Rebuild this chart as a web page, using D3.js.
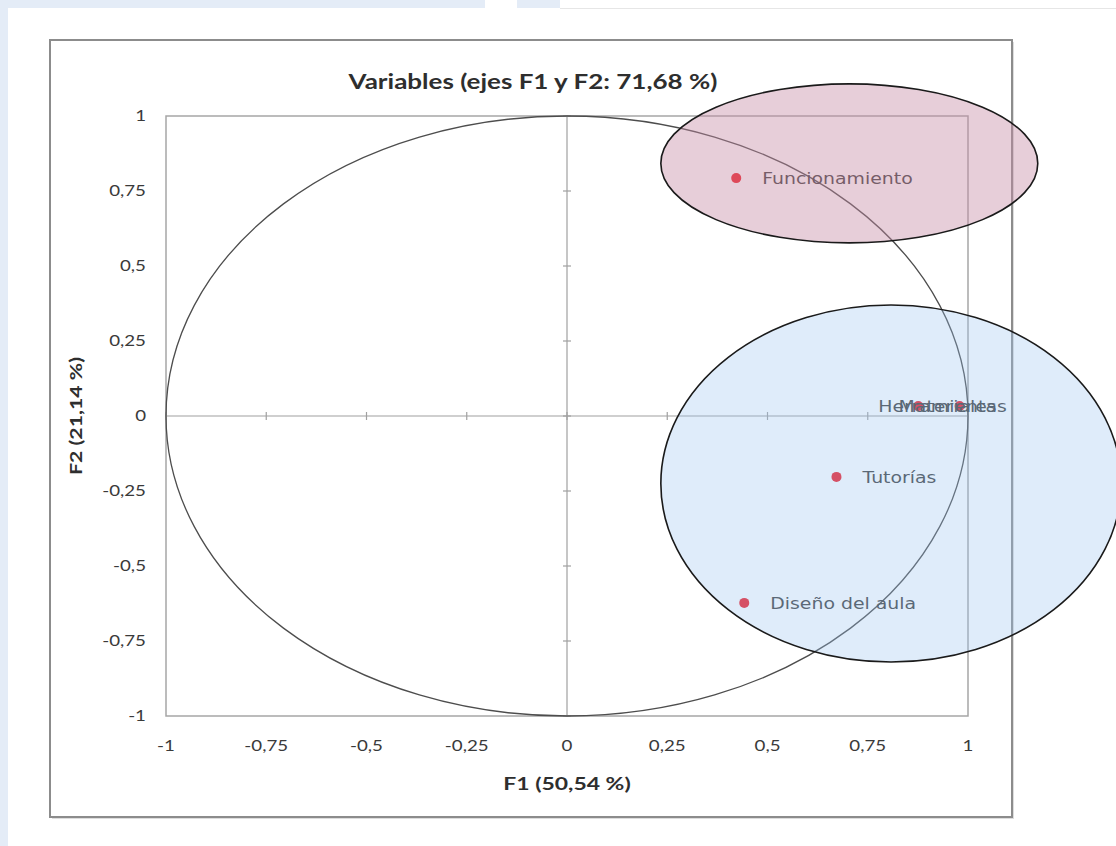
<!DOCTYPE html>
<html>
<head>
<meta charset="utf-8">
<script src="https://cdn.jsdelivr.net/npm/d3@7"></script>
<style>
  body { margin: 0; background: #fff; }
  svg { display: block; }
</style>
</head>
<body>
<svg width="1116" height="846"></svg>
<script>
// Variables on the F1/F2 plane
const variables = ['Funcionamiento', 'Herramientas', 'Materiales', 'Tutorías', 'Diseño del aula'];
const f1Values = [0.422, 0.876, 0.979, 0.672, 0.442];
const f2Values = [0.793, 0.033, 0.033, -0.203, -0.623];

const ticks = [-1, -0.75, -0.5, -0.25, 0, 0.25, 0.5, 0.75, 1];
const tickLabels = ['-1', '-0,75', '-0,5', '-0,25', '0', '0,25', '0,5', '0,75', '1'];

// highlighted groups (centre x, centre y, radius x, radius y) in axis units
const groupCx = [0.704, 0.808];
const groupCy = [0.842, -0.225];
const groupRx = [0.470, 0.574];
const groupRy = [0.265, 0.595];

const svg = d3.select('svg');

// the original picture is a bit wider than tall, text included
const stretch = (sel, px, py, s) => sel.attr('x', 0).attr('y', 0)
    .attr('transform', (d, i) => `translate(${typeof px === 'function' ? px(d, i) : px},${typeof py === 'function' ? py(d, i) : py}) scale(${s},1)`);

// page background pieces
svg.append('rect').attr('x', 0).attr('y', 0).attr('width', 8).attr('height', 846).attr('fill', '#e4ecf7');
svg.append('rect').attr('x', 0).attr('y', 0).attr('width', 485).attr('height', 8).attr('fill', '#e4ecf7');
svg.append('rect').attr('x', 517).attr('y', 0).attr('width', 43).attr('height', 8).attr('fill', '#e4ecf7');
svg.append('line').attr('x1', 560).attr('x2', 1116).attr('y1', 8.5).attr('y2', 8.5).attr('stroke', '#e6e6e6');

// chart box
svg.append('rect').attr('x', 52).attr('y', 42).attr('width', 962).attr('height', 777).attr('fill', '#ddd');
svg.append('rect').attr('x', 50).attr('y', 40).attr('width', 962).attr('height', 777)
    .attr('fill', '#fff').attr('stroke', '#8c8c8c').attr('stroke-width', 2);

const x = d3.scaleLinear().domain([-1, 1]).range([166, 968]);
const y = d3.scaleLinear().domain([-1, 1]).range([716, 116]);

// plot frame
svg.append('rect').attr('x', x(-1)).attr('y', y(1))
    .attr('width', x(1) - x(-1)).attr('height', y(-1) - y(1))
    .attr('fill', 'none').attr('stroke', '#a6a6a6').attr('stroke-width', 1.5);

// axes through the origin
svg.append('line').attr('x1', x(-1)).attr('x2', x(1)).attr('y1', y(0)).attr('y2', y(0))
    .attr('stroke', '#a0a0a0').attr('stroke-width', 1.2);
svg.append('line').attr('x1', x(0)).attr('x2', x(0)).attr('y1', y(-1)).attr('y2', y(1))
    .attr('stroke', '#a0a0a0').attr('stroke-width', 1.2);

svg.selectAll('.xt').data(ticks).enter().append('line')
    .attr('x1', d => x(d)).attr('x2', d => x(d))
    .attr('y1', y(0) - 4).attr('y2', y(0) + 4)
    .attr('stroke', '#a0a0a0').attr('stroke-width', 1.2);
svg.selectAll('.yt').data(ticks).enter().append('line')
    .attr('x1', x(0) - 4).attr('x2', x(0) + 4)
    .attr('y1', d => y(d)).attr('y2', d => y(d))
    .attr('stroke', '#a0a0a0').attr('stroke-width', 1.2);

// tick labels
svg.selectAll('.xl').data(ticks).enter().append('text')
    .call(stretch, d => x(d), 751, 1.25)
    .attr('text-anchor', 'middle')
    .attr('font-family', 'Lato, sans-serif').attr('font-size', 15).attr('fill', '#3a3a3a')
    .text((d, i) => tickLabels[i]);
svg.selectAll('.yl').data(ticks).enter().append('text')
    .call(stretch, 146, d => y(d) + 5, 1.25)
    .attr('text-anchor', 'end')
    .attr('font-family', 'Lato, sans-serif').attr('font-size', 15).attr('fill', '#3a3a3a')
    .text((d, i) => tickLabels[i]);

// titles
svg.append('text').call(stretch, 533, 89, 1.3).attr('text-anchor', 'middle')
    .attr('font-family', 'Lato, sans-serif').attr('font-weight', 'bold').attr('font-size', 20).attr('fill', '#2e2e2e')
    .text('Variables (ejes F1 y F2: 71,68 %)');
svg.append('text').call(stretch, 567, 790, 1.35).attr('text-anchor', 'middle')
    .attr('font-family', 'Lato, sans-serif').attr('font-weight', 'bold').attr('font-size', 17).attr('fill', '#2e2e2e')
    .text('F1 (50,54 %)');
svg.append('text').attr('transform', 'translate(82,416) rotate(-90) scale(1.25,1)').attr('text-anchor', 'middle')
    .attr('font-family', 'Lato, sans-serif').attr('font-weight', 'bold').attr('font-size', 17).attr('fill', '#2e2e2e')
    .text('F2 (21,14 %)');

// correlation circle
svg.append('ellipse')
    .attr('cx', x(0)).attr('cy', y(0))
    .attr('rx', x(1) - x(0)).attr('ry', y(0) - y(1))
    .attr('fill', 'none').attr('stroke', '#4d4d4d').attr('stroke-width', 1.3);

// points and labels
const pts = variables.map((v, i) => ({ name: v, f1: f1Values[i], f2: f2Values[i] }));
const labelShift = { 'Herramientas': -66, 'Materiales': -87 };

svg.selectAll('circle.pt').data(pts).enter().append('circle')
    .attr('class', 'pt')
    .attr('cx', d => x(d.f1)).attr('cy', d => y(d.f2)).attr('r', 5)
    .attr('fill', '#f01a24');

svg.selectAll('text.lbl').data(pts).enter().append('text')
    .attr('class', 'lbl')
    .call(stretch, d => x(d.f1) + 26 + (labelShift[d.name] || 0), d => y(d.f2) + 6, 1.18)
    .attr('font-family', 'DejaVu Sans, sans-serif').attr('font-size', 16).attr('fill', '#3d3d3d')
    .text(d => d.name);

// highlighted groups drawn on top, semi-transparent
const groupFill = ['#c58aa5', '#9cc3ef'];
const groupOpacity = [0.42, 0.32];
svg.selectAll('ellipse.grp').data(groupCx).enter().append('ellipse')
    .attr('class', 'grp')
    .attr('cx', d => x(d)).attr('cy', (d, i) => y(groupCy[i]))
    .attr('rx', (d, i) => x(groupRx[i]) - x(0)).attr('ry', (d, i) => y(0) - y(groupRy[i]))
    .attr('fill', (d, i) => groupFill[i]).attr('fill-opacity', (d, i) => groupOpacity[i])
    .attr('stroke', '#1a1a1a').attr('stroke-width', 1.6);
</script>
</body>
</html>
